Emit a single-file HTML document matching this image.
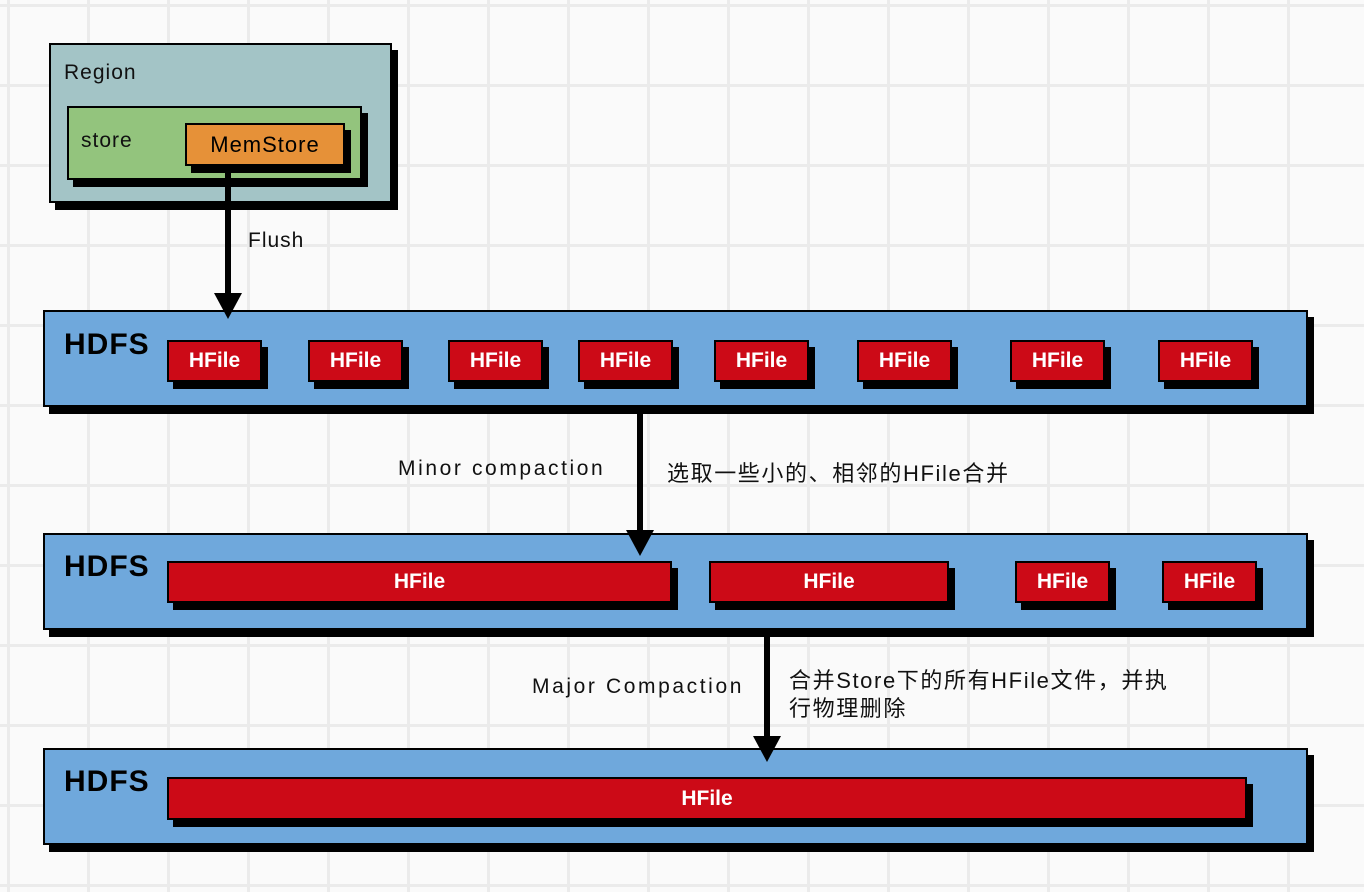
<!DOCTYPE html>
<html><head><meta charset="utf-8"><style>
body{margin:0;width:1364px;height:892px;overflow:hidden;background-color:#fafafa;
background-image:linear-gradient(90deg,#ebebeb 3px,transparent 3px),linear-gradient(#ebebeb 3px,transparent 3px);
background-size:80px 80px;background-position:7px 0,0 4px;position:relative;font-family:"Liberation Sans","Noto Sans CJK SC",sans-serif;}
.b{position:absolute;border:2px solid #000;box-shadow:6px 7px 0 #000;box-sizing:border-box;}
.h{background:#6fa8dc;}
.f{background:#cc0a17;color:#fff;font-size:21px;font-weight:bold;display:flex;align-items:center;justify-content:center;}
.t{position:absolute;font-size:21px;color:#111;white-space:nowrap;letter-spacing:1px;}
.hd{position:absolute;font-size:30px;font-weight:bold;color:#000;letter-spacing:1px;}
.ln{position:absolute;background:#000;width:6px;z-index:5;}
.ar{position:absolute;width:0;height:0;border-left:14px solid transparent;border-right:14px solid transparent;border-top:26px solid #000;z-index:5;}
</style></head><body>
<div class="b" style="left:49px;top:43px;width:343px;height:160px;background:#a3c4c6"></div>
<div class="t" style="left:64px;top:61px;">Region</div>
<div class="b" style="left:67px;top:106px;width:295px;height:74px;background:#93c47d"></div>
<div class="t" style="left:81px;top:129px;">store</div>
<div class="b" style="left:185px;top:123px;width:160px;height:43px;background:#e69138;display:flex;align-items:center;justify-content:center;font-size:22px;letter-spacing:1px">MemStore</div>

<div class="ln" style="left:225px;top:166px;height:128px"></div>
<div class="ar" style="left:214px;top:293px"></div>
<div class="t" style="left:248px;top:229px;">Flush</div>

<div class="b h" style="left:43px;top:310px;width:1265px;height:97px"></div>
<div class="hd" style="left:64px;top:328px">HDFS</div>
<div class="b f" style="left:167px;top:340px;width:95px;height:42px">HFile</div>
<div class="b f" style="left:308px;top:340px;width:95px;height:42px">HFile</div>
<div class="b f" style="left:448px;top:340px;width:95px;height:42px">HFile</div>
<div class="b f" style="left:578px;top:340px;width:95px;height:42px">HFile</div>
<div class="b f" style="left:714px;top:340px;width:95px;height:42px">HFile</div>
<div class="b f" style="left:857px;top:340px;width:95px;height:42px">HFile</div>
<div class="b f" style="left:1010px;top:340px;width:95px;height:42px">HFile</div>
<div class="b f" style="left:1158px;top:340px;width:95px;height:42px">HFile</div>

<div class="ln" style="left:637px;top:407px;height:125px"></div>
<div class="ar" style="left:626px;top:530px"></div>
<div class="t" style="left:398px;top:457px;letter-spacing:2.6px">Minor compaction</div>
<div class="t" style="left:667px;top:456px;font-size:22px;letter-spacing:1.6px">选取一些小的、相邻的HFile合并</div>

<div class="b h" style="left:43px;top:533px;width:1265px;height:97px"></div>
<div class="hd" style="left:64px;top:550px">HDFS</div>
<div class="b f" style="left:167px;top:561px;width:505px;height:42px">HFile</div>
<div class="b f" style="left:709px;top:561px;width:240px;height:42px">HFile</div>
<div class="b f" style="left:1015px;top:561px;width:95px;height:42px">HFile</div>
<div class="b f" style="left:1162px;top:561px;width:95px;height:42px">HFile</div>

<div class="ln" style="left:764px;top:630px;height:108px"></div>
<div class="ar" style="left:753px;top:736px"></div>
<div class="t" style="left:532px;top:675px;letter-spacing:2.6px">Major Compaction</div>
<div class="t" style="left:789px;top:667px;line-height:28px;font-size:22px;letter-spacing:1.6px">合并Store下的所有HFile文件，并执<br>行物理删除</div>

<div class="b h" style="left:43px;top:748px;width:1265px;height:97px"></div>
<div class="hd" style="left:64px;top:765px">HDFS</div>
<div class="b f" style="left:167px;top:777px;width:1080px;height:43px">HFile</div>
</body></html>
